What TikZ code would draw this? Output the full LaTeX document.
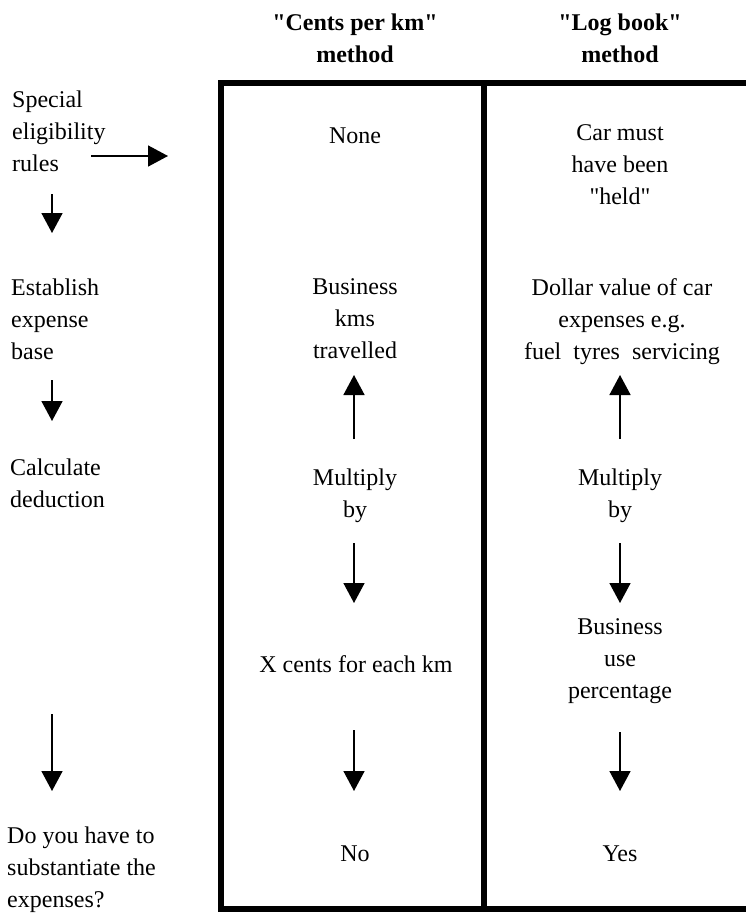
\documentclass[tikz,border=0pt]{standalone}
\usepackage{fontspec}
\setmainfont{Liberation Serif}
\usetikzlibrary{arrows.meta}
\newcommand{\sq}{\textquotedbl}
\tikzset{
  txt/.style={font=\fontsize{24}{32}\selectfont, inner sep=0pt, align=center, anchor=north, yshift=22.4pt, execute at begin node=\strut},
  ltxt/.style={txt, align=left, anchor=north west},
  head/.style={txt, font=\fontsize{24}{32}\selectfont\bfseries},
  arr/.style={line width=1.6pt, -{Triangle[length=20pt,width=21pt]}},
  frame/.style={line width=6pt, line join=miter}
}
\begin{document}
\begin{tikzpicture}[x=1pt,y=-1pt]
\useasboundingbox (0,0) rectangle (746,913);
% frame
\draw[frame] (746,83) -- (221,83) -- (221,909) -- (746,909);
\draw[frame] (484,83) -- (484,909);
% headers
\node[head] (hc) at (355,36) {\sq Cents per km\sq\\method};
\node[head] (hl) at (620,36) {\sq Log book\sq\\method};
% left column
\node[ltxt] (special) at (12,113) {Special\\eligibility\\rules};
\node[ltxt] (establish) at (11,301) {Establish\\expense\\base};
\node[ltxt] (calc) at (10,481) {Calculate\\deduction};
\node[ltxt] (subst) at (7,849) {Do you have to\\substantiate the\\expenses?};
% middle column
\node[txt] (none) at (355,143) {None};
\node[txt] (kms) at (355,301) {Business\\kms\\travelled};
\node[txt] (mult1) at (355,491) {Multiply\\by};
\node[txt] (cents) at (356,672) {X cents for each km};
\node[txt] (no) at (355,861) {No};
% right column
\node[txt] (held) at (620,147) {Car must\\have been\\\sq held\sq};
\node[txt] (dollar) at (622,301) {Dollar value of car\\expenses e.g.\\fuel\ \ tyres\ \ servicing};
\node[txt] (mult2) at (620,491) {Multiply\\by};
\node[txt] (pct) at (620,641) {Business\\use\\percentage};
\node[txt] (yes) at (620,861) {Yes};
% arrow end points
\coordinate (ah1) at (91,156);  \coordinate (ah2) at (168,156);
\coordinate (ld1a) at (52,194); \coordinate (ld1b) at (52,233);
\coordinate (ld2a) at (52,380); \coordinate (ld2b) at (52,421);
\coordinate (ld3a) at (52,714); \coordinate (ld3b) at (52,791);
\coordinate (mu1a) at (354,439); \coordinate (mu1b) at (354,375);
\coordinate (md1a) at (354,543); \coordinate (md1b) at (354,603);
\coordinate (md2a) at (354,730); \coordinate (md2b) at (354,791);
\coordinate (ru1a) at (620,439); \coordinate (ru1b) at (620,375);
\coordinate (rd1a) at (620,543); \coordinate (rd1b) at (620,603);
\coordinate (rd2a) at (620,732); \coordinate (rd2b) at (620,791);
% arrows
\draw[arr] (ah1) -- (ah2);
\draw[arr] (ld1a) -- (ld1b);
\draw[arr] (ld2a) -- (ld2b);
\draw[arr] (ld3a) -- (ld3b);
\draw[arr] (mu1a) -- (mu1b);
\draw[arr] (md1a) -- (md1b);
\draw[arr] (md2a) -- (md2b);
\draw[arr] (ru1a) -- (ru1b);
\draw[arr] (rd1a) -- (rd1b);
\draw[arr] (rd2a) -- (rd2b);
\end{tikzpicture}
\end{document}
